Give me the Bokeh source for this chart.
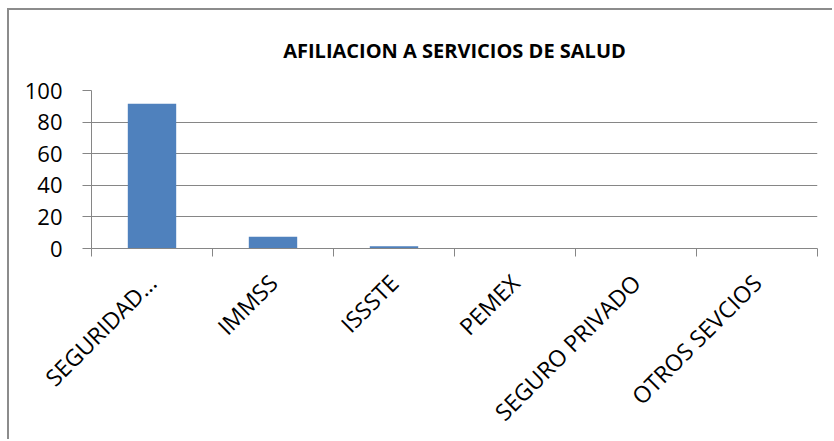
from bokeh.plotting import figure
from bokeh.models import FixedTicker, Range1d, ColumnDataSource
from bokeh.embed import file_html
from bokeh.resources import INLINE
import math

categories = ["SEGURIDAD...", "IMMSS", "ISSSTE", "PEMEX", "SEGURO PRIVADO", "OTROS SEVCIOS"]
values = [91.6, 7.5, 1.4, 0, 0, 0]
y_ticks = [0, 20, 40, 60, 80, 100]
title_text = "AFILIACION A SERVICIOS DE SALUD"

positions = [i + 0.5 for i in range(len(categories))]
boundaries = list(range(len(categories) + 1))

src = ColumnDataSource(dict(x=positions, v=values, cat=categories))

GRAY = "#868686"
FONT = "Open Sans"

p = figure(width=825, height=431, output_backend="svg", toolbar_location=None,
           x_range=Range1d(0, len(categories)), y_range=Range1d(0, 100),
           min_border_left=82, min_border_right=17, min_border_top=80, min_border_bottom=191,
           title=title_text)
p.styles = {"border-top": "2px solid #8c8c8c", "border-left": "2px solid #8c8c8c",
            "margin-left": "7px", "margin-top": "8px"}

p.vbar(x="x", top="v", width=0.4, source=src, fill_color="#4F81BD", line_color=None)

p.title.align = "center"
p.title.vertical_align = "top"
p.title.text_font = FONT
p.title.text_font_style = "bold"
p.title.text_font_size = "20px"
p.title.text_color = "black"
p.title.standoff = 49

p.outline_line_color = None
p.background_fill_color = "white"
p.border_fill_color = "white"

p.xgrid.grid_line_color = None
p.ygrid.grid_line_color = GRAY
p.ygrid.grid_line_width = 1
p.ygrid.ticker = FixedTicker(ticks=y_ticks)

ya = p.yaxis[0]
ya.ticker = FixedTicker(ticks=y_ticks)
ya.axis_line_color = GRAY
ya.major_tick_line_color = GRAY
ya.major_tick_out = 9
ya.major_tick_in = 0
ya.minor_tick_line_color = None
ya.major_label_text_font = FONT
ya.major_label_text_font_size = "22px"
ya.major_label_text_color = "black"
ya.major_label_standoff = 20

xa = p.xaxis[0]
xa.ticker = FixedTicker(ticks=positions, minor_ticks=boundaries)
xa.major_label_overrides = {pos: c for pos, c in zip(positions, categories)}
xa.axis_line_color = GRAY
xa.major_tick_line_color = None
xa.major_tick_out = 0
xa.major_tick_in = 0
xa.minor_tick_line_color = GRAY
xa.minor_tick_out = 8
xa.minor_tick_in = 0
xa.major_label_orientation = math.pi / 4
xa.major_label_text_font = FONT
xa.major_label_text_font_size = "23px"
xa.major_label_text_color = "black"
xa.major_label_standoff = 22

open("out.html", "w").write(file_html(p, INLINE))
